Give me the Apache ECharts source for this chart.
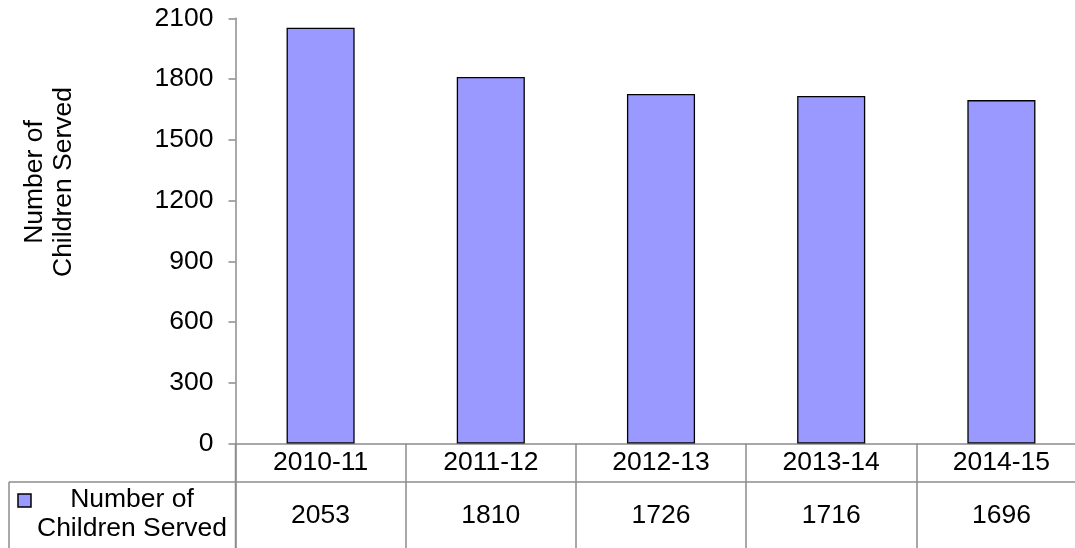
<!DOCTYPE html>
<html>
<head>
<meta charset="utf-8">
<script src="https://cdn.jsdelivr.net/npm/echarts@6/dist/echarts.min.js"></script>
<style>
html,body{margin:0;padding:0;background:#fff;overflow:hidden;width:1075px;height:548px;}
#chart{width:1087px;height:548px;}
</style>
</head>
<body>
<div id="chart"></div>
<script>
const categories = ['2010-11', '2011-12', '2012-13', '2013-14', '2014-15'];
const seriesName = 'Number of\nChildren Served';
const values = [2053, 1810, 1726, 1716, 1696];
const yTicks = { min: 0, max: 2100, interval: 300 };
const axisTitle = 'Number of\nChildren Served';

const FONT = '"Liberation Sans", Arial, sans-serif';
const FS = 26.5;
const LINE = '#8c8c8c';
const BAR = '#9999ff';

const chart = echarts.init(document.getElementById('chart'), null, { renderer: 'canvas' });
chart.setOption({
  animation: false,
  backgroundColor: '#fff',
  textStyle: { fontFamily: FONT, color: '#000' },
  grid: { left: 235.5, top: 18.3, right: 0.5, bottom: 104.5, containLabel: false },
  xAxis: [{
    type: 'category',
    data: categories,
    position: 'bottom',
    axisLine: { show: true, lineStyle: { color: LINE, width: 1.5 } },
    axisTick: { show: true, length: 110, inside: false, alignWithLabel: false, lineStyle: { color: LINE, width: 1.5 } },
    axisLabel: { fontSize: FS, color: '#000', fontFamily: FONT, margin: 6, interval: 0 },
    splitLine: { show: false }
  }, {
    type: 'category',
    data: values.map(String),
    position: 'bottom',
    offset: 53,
    axisLine: { show: false },
    axisTick: { show: false },
    axisLabel: { fontSize: FS, color: '#000', fontFamily: FONT, margin: 6, interval: 0 },
    splitLine: { show: false }
  }],
  yAxis: {
    type: 'value',
    min: yTicks.min, max: yTicks.max, interval: yTicks.interval,
    axisLine: { show: true, lineStyle: { color: LINE, width: 1.5 } },
    axisTick: { show: true, length: 7, lineStyle: { color: LINE, width: 1.5 } },
    axisLabel: { fontSize: FS, color: '#000', fontFamily: FONT, margin: 22, formatter: v => String(v) },
    splitLine: { show: false }
  },
  series: [{
    name: seriesName,
    type: 'bar',
    data: values,
    xAxisIndex: 0,
    barWidth: '40%',
    itemStyle: { color: BAR, borderColor: '#000', borderWidth: 1.3 }
  }],
  graphic: [
    { type: 'text', x: 49, y: 182, rotation: Math.PI / 2,
      style: { text: axisTitle, font: FS + 'px ' + FONT, fill: '#000', align: 'center', verticalAlign: 'middle', lineHeight: 29 } },
    { type: 'line', shape: { x1: 9, y1: 482, x2: 1087, y2: 482 }, style: { stroke: LINE, lineWidth: 1.5 } },
    { type: 'line', shape: { x1: 9, y1: 482, x2: 9, y2: 548 }, style: { stroke: LINE, lineWidth: 1.5 } },
    { type: 'line', shape: { x1: 235.5, y1: 444, x2: 235.5, y2: 548 }, style: { stroke: LINE, lineWidth: 1.5 } },
    { type: 'rect', shape: { x: 18, y: 494, width: 13, height: 13 }, style: { fill: BAR, stroke: '#000', lineWidth: 1.5 } },
    { type: 'text', x: 132, y: 514,
      style: { text: seriesName, font: FS + 'px ' + FONT, fill: '#000', align: 'center', verticalAlign: 'middle', lineHeight: 29 } }
  ]
});
</script>
</body>
</html>
